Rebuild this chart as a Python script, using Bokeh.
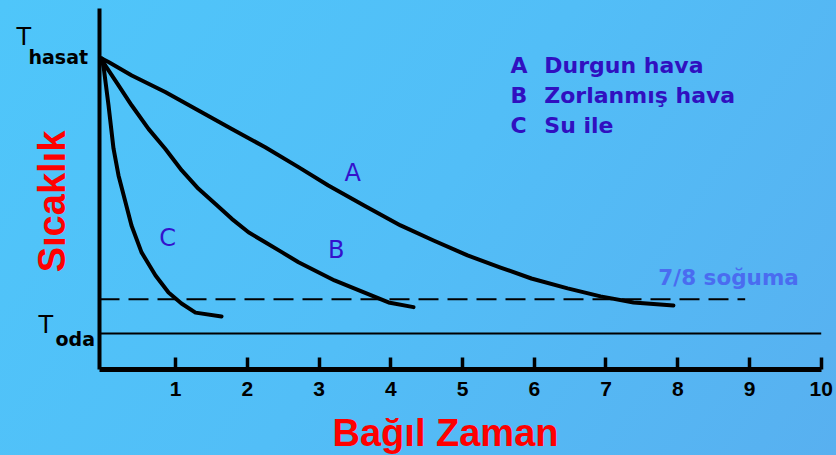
from bokeh.plotting import figure
from bokeh.models import Range1d, FixedTicker, Label, LinearAxis
from bokeh.core.properties import value
from bokeh.embed import file_html
from bokeh.resources import INLINE

# ---- data (relative time vs. normalised temperature; T_oda = 0, T_hasat = 1) ----
a_x = [-0.03, 0.066, 0.39, 0.856, 1.32, 1.784, 2.25, 2.714, 3.13, 3.634, 4.136, 4.596,
       5.07, 5.53, 5.96, 6.465, 6.924, 7.384, 7.94]
a_y = [1.0, 0.987, 0.938, 0.878, 0.811, 0.744, 0.677, 0.605, 0.538, 0.465, 0.393, 0.338,
       0.284, 0.240, 0.200, 0.164, 0.135, 0.113, 0.102]

b_x = [-0.03, 0.02, 0.205, 0.39, 0.623, 0.856, 1.087, 1.32, 1.553, 1.784, 2.017, 2.25,
       2.481, 2.714, 3.216, 3.592, 3.969, 4.317]
b_y = [1.0, 0.975, 0.902, 0.829, 0.744, 0.672, 0.593, 0.526, 0.472, 0.417, 0.368, 0.332,
       0.296, 0.259, 0.193, 0.153, 0.113, 0.096]

c_x = [-0.03, 0.0, 0.066, 0.135, 0.205, 0.303, 0.386, 0.526, 0.721, 0.902, 1.083, 1.278, 1.641]
c_y = [1.0, 0.964, 0.829, 0.673, 0.575, 0.476, 0.393, 0.295, 0.211, 0.149, 0.109, 0.076, 0.062]

x_ticks = [1, 2, 3, 4, 5, 6, 7, 8, 9, 10]
x_axis_bounds = (-0.06, 10.0)
y_axis_bounds = (-0.131, 1.182)
t_oda = 0.0
t_hasat = 1.0
cooling_7_8 = 0.125
cooling_line_end = 8.94

curve_names = ["A", "B", "C"]
curve_label_x = [3.47, 3.24, 0.89]
curve_label_y = [0.585, 0.302, 0.349]

legend_keys = ["A", "B", "C"]
legend_texts = ["Durgun hava", "Zorlanmış hava", "Su ile"]
legend_key_x = 5.67
legend_text_x = 6.14
legend_y = [0.973, 0.864, 0.755]

x_title = "Bağıl Zaman"
y_title = "Sıcaklık"
cool_text = "7/8 soğuma"

# ---- figure: the frame covers the whole canvas, axes are fixed inside it ----
p = figure(width=836, height=455,
           x_range=Range1d(-1.44, 10.213), y_range=Range1d(-0.4436, 1.2109),
           x_axis_location=None, y_axis_location=None,
           output_backend="svg", toolbar_location=None,
           min_border_left=0, min_border_right=0, min_border_top=0, min_border_bottom=0,
           styles={"background": "linear-gradient(125deg, #4fc6fa 0%, #52bef7 50%, #58b0f0 100%)"})
p.background_fill_alpha = 0
p.border_fill_alpha = 0
p.outline_line_color = None
p.grid.visible = False

# x axis
xa = LinearAxis(fixed_location=y_axis_bounds[0], bounds=x_axis_bounds,
                ticker=FixedTicker(ticks=x_ticks))
xa.axis_line_width = 5
xa.axis_line_color = "black"
xa.major_tick_in = 12
xa.major_tick_out = 0
xa.major_tick_line_width = 3.5
xa.major_tick_line_color = "black"
xa.minor_tick_line_color = None
xa.major_label_text_font = "Liberation Sans"
xa.major_label_text_font_style = "bold"
xa.major_label_text_font_size = "21px"
xa.major_label_text_color = "black"
xa.major_label_standoff = 12
p.add_layout(xa, "below")

# y axis
ya = LinearAxis(fixed_location=x_axis_bounds[0], bounds=y_axis_bounds,
                ticker=FixedTicker(ticks=[]))
ya.axis_line_width = 4
ya.axis_line_color = "black"
ya.major_tick_line_color = None
ya.minor_tick_line_color = None
ya.major_label_text_font_size = "0px"
p.add_layout(ya, "left")

# reference lines
p.line(x=list(x_axis_bounds), y=[t_oda, t_oda], line_color="black", line_width=2)
p.line(x=[x_axis_bounds[0], cooling_line_end], y=[cooling_7_8, cooling_7_8],
       line_color="black", line_width=2, line_dash="20 9")

# curves
for xs, ys in [(a_x, a_y), (b_x, b_y), (c_x, c_y)]:
    p.line(x=xs, y=ys, line_color="black", line_width=4, line_join="round", line_cap="round")

# curve labels
p.text(x=curve_label_x, y=curve_label_y, text=curve_names,
       text_font=value("DejaVu Sans"), text_font_size=value("24px"),
       text_color="#3412cc", text_align="center", text_baseline="middle")

# legend block
p.text(x=[legend_key_x] * 3, y=legend_y, text=legend_keys,
       text_font=value("DejaVu Sans"), text_font_size=value("22px"), text_font_style="bold",
       text_color="#3010c0", text_align="left", text_baseline="middle")
p.text(x=[legend_text_x] * 3, y=legend_y, text=legend_texts,
       text_font=value("DejaVu Sans"), text_font_size=value("22px"), text_font_style="bold",
       text_color="#3010c0", text_align="left", text_baseline="middle")

# 7/8 cooling note
p.add_layout(Label(x=7.73, y=0.2022, text=cool_text, text_font="DejaVu Sans",
                   text_font_size="21.5px", text_font_style="bold", text_color="#4a6cf0",
                   text_align="left", text_baseline="middle"))

# T_hasat and T_oda labels
p.add_layout(Label(x=-1.217, y=1.0785, text="T", text_font="DejaVu Sans", text_font_size="24px",
                   text_color="black", text_align="left", text_baseline="middle"))
p.add_layout(Label(x=-1.05, y=1.0065, text="hasat", text_font="DejaVu Sans", text_font_size="19px",
                   text_font_style="bold", text_color="black", text_align="left",
                   text_baseline="middle"))
p.add_layout(Label(x=-0.91, y=0.0313, text="T", text_font="DejaVu Sans", text_font_size="24px",
                   text_color="black", text_align="left", text_baseline="middle"))
p.add_layout(Label(x=-0.673, y=-0.0189, text="oda", text_font="DejaVu Sans", text_font_size="19px",
                   text_font_style="bold", text_color="black", text_align="left",
                   text_baseline="middle"))

# axis titles
p.add_layout(Label(x=4.763, y=-0.3611, text=x_title, text_font="Liberation Sans",
                   text_font_size="38px", text_font_style="bold", text_color="#ff0000",
                   text_align="center", text_baseline="middle"))
p.add_layout(Label(x=-0.725, y=0.48, text=y_title, text_font="Liberation Sans",
                   text_font_size="38px", text_font_style="bold", text_color="#ff0000",
                   text_align="center", text_baseline="middle", angle=1.5708))

open("out.html", "w").write(file_html(p, INLINE))
